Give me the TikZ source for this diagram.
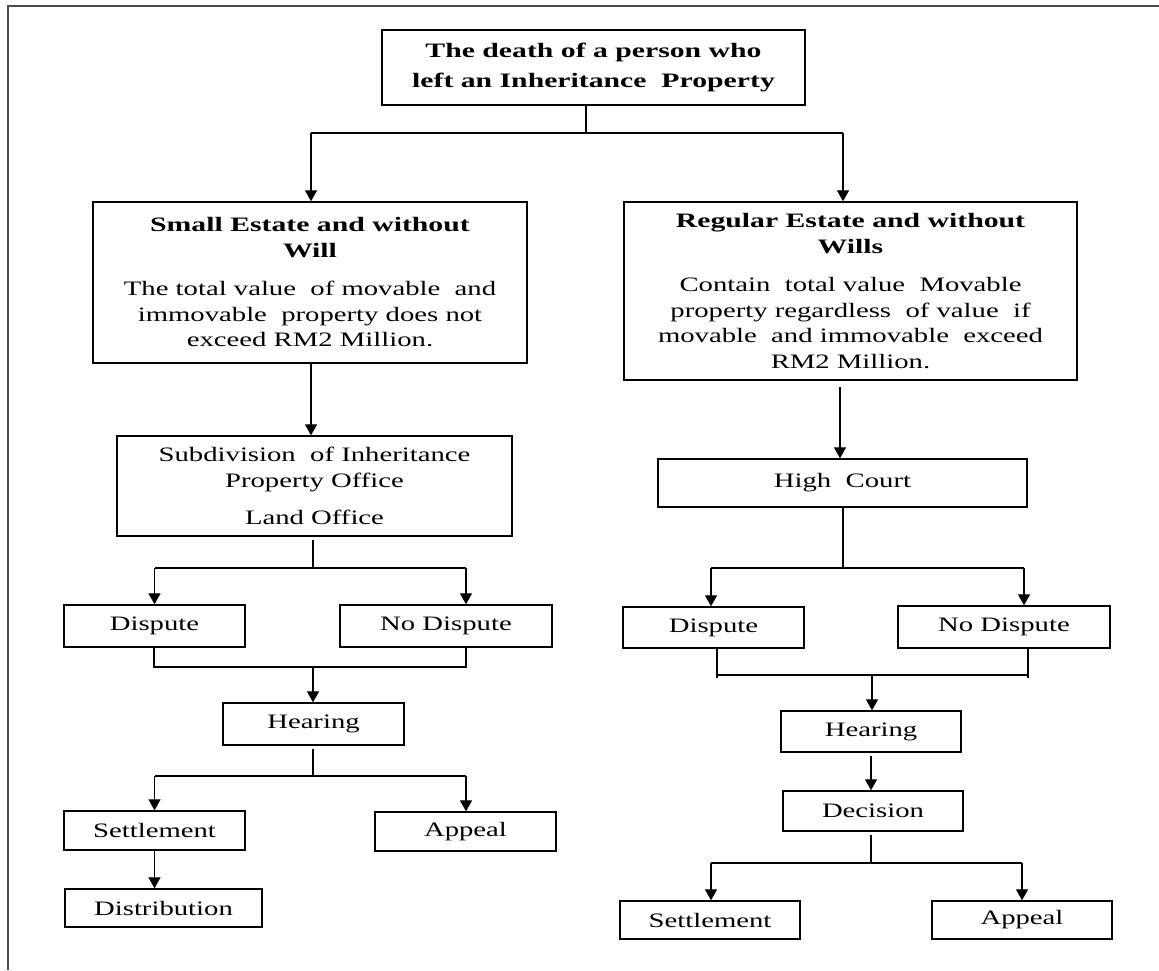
\documentclass[tikz,border=0pt]{standalone}
\usepackage{fontspec}
\setmainfont{Liberation Serif}[FakeStretch=1.4,BoldFeatures={FakeStretch=1.45}]
\usetikzlibrary{arrows.meta,calc}
\tikzset{
  box/.style={draw=black, line width=1.4pt, inner sep=0pt, align=center,
    font=\fontsize{20.5}{25.5}\selectfont},
  conn/.style={draw=black, line width=1.3pt},
  arr/.style={conn, -{Triangle[width=12pt,length=11pt]}},
  frameline/.style={draw=black!70, line width=2pt}
}
\begin{document}
\begin{tikzpicture}[x=1pt,y=-1pt]
\useasboundingbox (0,0) rectangle (1159,970);
\fill[white] (0,0) rectangle (1159,970);
% frame
\coordinate (fTL) at (8,5.5);
\coordinate (fTR) at (1159,5.5);
\coordinate (fBL) at (8,970);
\draw[frameline] (fTR) -- (fTL) -- (fBL);

% boxes
\node[box, minimum width=423pt, minimum height=75pt] (top) at (593.5,67.5)
  {\textbf{The death of a person who}\\[4pt]\textbf{left an Inheritance\ \ Property}};
\node[box, minimum width=434pt, minimum height=161pt] (small) at (310,282.5)
  {\textbf{Small Estate and without}\\\textbf{Will}\\[13pt]
   The total value\ \ of movable\ \ and\\immovable\ \ property does not\\exceed RM2 Million.};
\node[box, minimum width=453pt, minimum height=178pt] (reg) at (850.5,291)
  {\textbf{Regular Estate and without}\\\textbf{Wills}\\[13pt]
   Contain\ \ total value\ \ Movable\\property regardless\ \ of value\ \ if\\movable\ \ and immovable\ \ exceed\\RM2 Million.};
\node[box, minimum width=395pt, minimum height=100pt] (sub) at (314.5,486)
  {Subdivision\ \ of Inheritance\\Property Office\\[12pt]Land Office};
\node[box, minimum width=369pt, minimum height=48pt] (high) at (842.5,483) {High\ \ Court};
\node[box, minimum width=181pt, minimum height=42pt] (dispL) at (154.5,626) {Dispute};
\node[box, minimum width=212pt, minimum height=42pt] (nodispL) at (446,626) {No Dispute};
\node[box, minimum width=181pt, minimum height=41pt] (dispR) at (713.5,627.5) {Dispute};
\node[box, minimum width=212pt, minimum height=42pt] (nodispR) at (1004,627) {No Dispute};
\node[box, minimum width=181pt, minimum height=42pt] (hearL) at (313.5,724) {Hearing};
\node[box, minimum width=181pt, minimum height=39pt] (settL) at (154.5,830.5) {Settlement};
\node[box, minimum width=181pt, minimum height=39pt] (appL) at (465.5,831.5) {Appeal};
\node[box, minimum width=197pt, minimum height=38pt] (distL) at (163.5,908) {Distribution};
\node[box, minimum width=180pt, minimum height=41pt] (hearR) at (871,731.5) {Hearing};
\node[box, minimum width=180pt, minimum height=40pt] (decR) at (873,811) {Decision};
\node[box, minimum width=180pt, minimum height=38pt] (settR) at (710,920) {Settlement};
\node[box, minimum width=180pt, minimum height=38pt] (appR) at (1022,920) {Appeal};

% junction coordinates
\coordinate (jTop) at (586,133);
\coordinate (aSmall) at (311,133);
\coordinate (aReg) at (843,133);
\coordinate (aHigh) at (840,387);
\coordinate (jSub) at (313,568);
\coordinate (aNoL) at (466,568);
\coordinate (jHigh) at (843,568);
\coordinate (aDispR) at (711,568);
\coordinate (aNoR) at (1024,568);
\coordinate (cL1) at (154,667);
\coordinate (cL2) at (466,667);
\coordinate (cLm) at (313,667);
\coordinate (cR1) at (717,675);
\coordinate (cR2) at (1028,675);
\coordinate (cRm) at (872,675);
\coordinate (jHearL) at (313,776);
\coordinate (aAppL) at (466,776);
\coordinate (jDec) at (871,863);
\coordinate (aSettR) at (711,863);
\coordinate (aAppR) at (1022,863);

% top split
\draw[conn] (top.south -| jTop) -- (jTop);
\draw[conn] (aSmall) -- (aReg);
\draw[arr] (aSmall) -- (small.north -| aSmall);
\draw[arr] (aReg) -- (reg.north -| aReg);
% to offices
\draw[arr] (small.south -| aSmall) -- (sub.north -| aSmall);
\draw[arr] (aHigh) -- (high.north -| aHigh);
% office splits
\draw[conn] ([yshift=-3pt]sub.south -| jSub) -- (jSub);
\draw[conn] (jSub -| dispL.north) -- (aNoL);
\draw[arr] (jSub -| dispL.north) -- (dispL.north);
\draw[arr] (aNoL) -- (nodispL.north -| aNoL);
\draw[conn] (high.south -| jHigh) -- (jHigh);
\draw[conn] (aDispR) -- (aNoR);
\draw[arr] (aDispR) -- (dispR.north -| aDispR);
\draw[arr] (aNoR) -- (nodispR.north -| aNoR);
% collectors
\draw[conn] (dispL.south -| cL1) -- (cL1) -- (cL2) -- (nodispL.south -| cL2);
\draw[arr] (cLm) -- (hearL.north -| cLm);
\draw[conn] (dispR.south -| cR1) -- ([yshift=-3pt]cR1);
\draw[conn] (nodispR.south -| cR2) -- ([yshift=-3pt]cR2);
\draw[conn] (cR1) -- (cR2);
\draw[arr] (cRm) -- (hearR.north -| cRm);
% left bottom
\draw[conn] ([yshift=-3pt]hearL.south -| jHearL) -- (jHearL);
\draw[conn] (jHearL -| settL.north) -- (aAppL);
\draw[arr] (jHearL -| settL.north) -- (settL.north);
\draw[arr] (aAppL) -- (appL.north -| aAppL);
\draw[arr] (settL.south) -- (distL.north -| settL.south);
% right bottom
\draw[arr] ([yshift=-3pt]hearR.south) -- (decR.north -| hearR.south);
\draw[conn] ([yshift=-3pt]decR.south -| jDec) -- (jDec);
\draw[conn] (aSettR) -- (aAppR);
\draw[arr] (aSettR) -- (settR.north -| aSettR);
\draw[arr] (aAppR) -- (appR.north -| aAppR);
\end{tikzpicture}
\end{document}
